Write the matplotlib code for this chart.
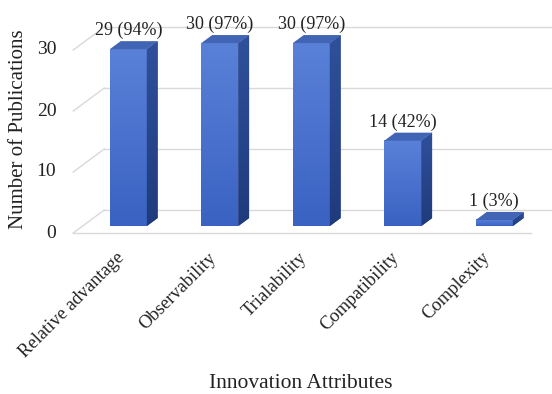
import numpy as np
import matplotlib
matplotlib.use("Agg")
import matplotlib.pyplot as plt
import matplotlib.transforms as mtransforms
from matplotlib.patches import Polygon
from matplotlib.colors import LinearSegmentedColormap

categories = ["Relative advantage", "Observability", "Trialability", "Compatibility", "Complexity"]
counts = [29, 30, 30, 14, 1]
percents = [94, 97, 97, 42, 3]
yticks = [0, 10, 20, 30]

plt.rcParams['font.family'] = ['Liberation Serif', 'DejaVu Serif']

W, H, DPI = 552, 394, 100
fig = plt.figure(figsize=(W / DPI, H / DPI), dpi=DPI)
# front plane axes
ax = fig.add_axes([73.25 / W, 161 / H, 457.5 / W, 219.6 / H])
ax.set_xlim(-0.5, 4.5)
ax.set_ylim(0, 36)
ax.axis('off')

# depth vector (full floor depth) in data units
DX, DY = 0.339, 3.77
grid_c = '#d9d9d9'
txt_c = '#222222'

# floor front edge
ax.plot([-0.5, 4.5], [0, 0], color=grid_c, lw=1.0, clip_on=False, zorder=1)
shift = mtransforms.ScaledTranslation(-17 / DPI, 0, fig.dpi_scale_trans)
for v in yticks:
    # left wall slanted line
    ax.plot([-0.5, -0.5 + DX], [v, v + DY], color=grid_c, lw=1.0, clip_on=False, zorder=1)
    # back wall gridline
    ax.plot([-0.5 + DX, 4.5 + DX], [v + DY, v + DY], color=grid_c, lw=1.0, clip_on=False, zorder=1)
    ax.text(-0.5, v, str(v), transform=ax.transData + shift, ha='right', va='center',
            fontsize=14, color=txt_c)

f0, f1 = 0.30, 0.65
bw = 0.404
front_cmap = LinearSegmentedColormap.from_list('f', ['#3a62c2', '#5a81d8'])
side_cmap = LinearSegmentedColormap.from_list('s', ['#1f3b7c', '#30509c'])
grad = np.linspace(0, 1, 64).reshape(-1, 1)
for i, (c, p) in enumerate(zip(counts, percents)):
    x0 = i + f0 * DX - bw / 2
    x1 = x0 + bw
    yb = f0 * DY
    yt = c + f0 * DY
    ddx = (f1 - f0) * DX
    ddy = (f1 - f0) * DY
    # front face gradient
    ax.imshow(grad, extent=[x0, x1, yb, yt], origin='lower', cmap=front_cmap, aspect='auto',
              zorder=3, interpolation='bilinear')
    # side face
    side = Polygon([[x1, yb], [x1 + ddx, yb + ddy], [x1 + ddx, yt + ddy], [x1, yt]], closed=True,
                   facecolor='#27468e', edgecolor='none', zorder=3)
    ax.add_patch(side)
    im = ax.imshow(grad, extent=[x1, x1 + ddx, yb, yt + ddy], origin='lower', cmap=side_cmap,
                   aspect='auto', zorder=3, interpolation='bilinear')
    im.set_clip_path(side)
    # top face
    top = Polygon([[x0, yt], [x1, yt], [x1 + ddx, yt + ddy], [x0 + ddx, yt + ddy]], closed=True,
                  facecolor='#4164b4', edgecolor='none', zorder=4)
    ax.add_patch(top)
    ax.annotate(f"{c} ({p}%)", xy=(i + f0 * DX, c + f1 * DY), xytext=(0, 1.5),
                textcoords='offset points', ha='center', va='bottom', fontsize=13,
                color=txt_c, annotation_clip=False)

ax.set_xlim(-0.5, 4.5)
ax.set_ylim(0, 36)

# category labels
for i, lab in enumerate(categories):
    ax.annotate(lab, xy=(i, 0), xytext=(2, -16), textcoords='offset points', rotation=45,
                ha='right', va='center', rotation_mode='anchor', fontsize=13.3, color=txt_c,
                annotation_clip=False)

fig.text(19 / W, 1 - 129 / H, "Number of Publications", rotation=90, ha='center', va='center',
         fontsize=15, color=txt_c)
fig.text(301 / W, 1 - 384 / H, "Innovation Attributes", ha='center', va='center',
         fontsize=15.5, color=txt_c)

fig.savefig('out.png', dpi=DPI, facecolor='white')
